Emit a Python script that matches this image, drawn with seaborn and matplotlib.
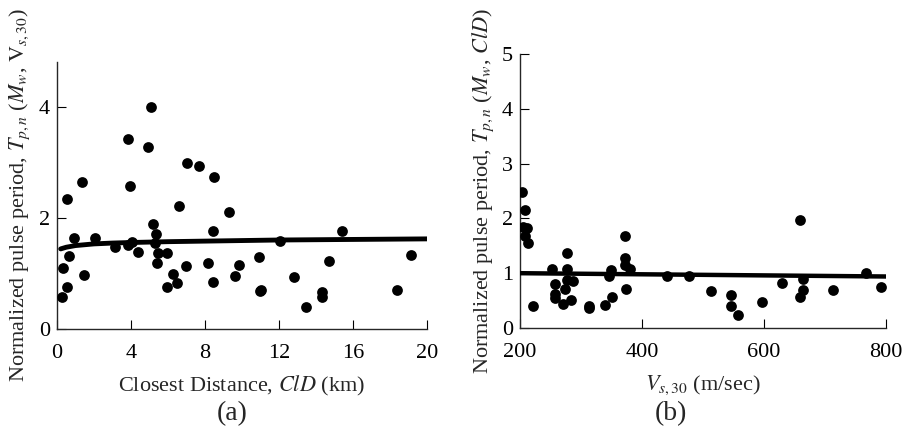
import numpy as np
import pandas as pd
import matplotlib
matplotlib.use("Agg")
import matplotlib.pyplot as plt
import seaborn as sns

# ---------------- data ----------------
# Panel (a): normalized pulse period vs closest distance
cld_km = [0.27, 0.32, 0.54, 0.65, 0.56, 0.94, 1.46, 1.33, 2.05, 3.12,
          3.86, 3.93, 3.86, 4.07, 4.38, 4.92, 5.10, 5.20, 5.35, 5.30,
          5.46, 5.42, 5.93, 5.93, 6.29, 6.49, 6.59, 6.95, 7.05, 7.66,
          8.18, 8.41, 8.45, 8.49, 9.30, 9.60, 9.82, 10.92, 10.95, 11.05,
          12.07, 12.83, 13.44, 14.34, 14.34, 14.68, 15.39, 18.38, 19.15]
tpn_a = [0.57, 1.09, 0.75, 1.32, 2.34, 1.63, 0.97, 2.65, 1.63, 1.47,
         3.42, 2.57, 1.51, 1.56, 1.39, 3.28, 3.99, 1.89, 1.70, 1.54,
         1.37, 1.18, 1.37, 0.75, 0.99, 0.82, 2.22, 1.14, 2.98, 2.93,
         1.18, 0.85, 1.77, 2.74, 2.10, 0.96, 1.15, 1.30, 0.68, 0.70,
         1.59, 0.93, 0.40, 0.66, 0.57, 1.23, 1.76, 0.70, 1.33]
fit_a_x = [0.2, 0.5, 1.0, 2.0, 3.0, 4.0, 6.0, 8.0, 10.0, 12.0, 14.0, 16.0, 18.0, 20.0]
fit_a_y = [1.44, 1.47, 1.50, 1.53, 1.545, 1.555, 1.57, 1.58, 1.59, 1.60, 1.605, 1.61, 1.615, 1.62]

# Panel (b): normalized pulse period vs Vs30
vs30 = [203.8, 208.2, 205.4, 211.0, 208.2, 213.6, 221.9,
        252.0, 276.5, 277.6, 256.8, 276.5, 287.4, 273.8, 257.4, 257.4,
        271.0, 283.6, 312.6, 312.6, 339.3, 350.3, 346.4, 349.2, 372.0,
        372.0, 372.0, 380.3, 373.8, 440.5, 477.5, 513.6, 545.4, 545.4,
        557.9, 596.7, 629.0, 659.5, 663.4, 664.4, 659.5, 712.6, 766.7, 791.8]
tpn_b = [2.49, 2.15, 1.85, 1.83, 1.68, 1.56, 0.40,
         1.07, 1.37, 1.07, 0.80, 0.88, 0.85, 0.72, 0.62, 0.54,
         0.43, 0.51, 0.40, 0.36, 0.42, 0.56, 0.95, 1.06, 1.67,
         1.27, 1.15, 1.08, 0.72, 0.94, 0.94, 0.68, 0.60, 0.41,
         0.24, 0.48, 0.82, 1.97, 0.89, 0.69, 0.56, 0.69, 1.00, 0.75]
fit_b_x = [200, 800]
fit_b_y = [1.00, 0.94]

xticks_a = [0, 4, 8, 12, 16, 20]
yticks_a = [0, 2, 4]
xticks_b = [200, 400, 600, 800]
yticks_b = [0, 1, 2, 3, 4, 5]

# ---------------- style ----------------
sns.set_style("ticks")
plt.rcParams["font.family"] = ["Liberation Serif", "DejaVu Serif"]
plt.rcParams["mathtext.fontset"] = "stix"
plt.rcParams["axes.linewidth"] = 1.0

FS = 16

fig = plt.figure(figsize=(9.05, 4.30), dpi=100)
ax1 = fig.add_axes([57/905, 1 - 329/430, 370/905, 267/430])
ax2 = fig.add_axes([520/905, 1 - 328/430, 366/905, 274/430])

df_a = pd.DataFrame({"x": cld_km, "y": tpn_a})
df_b = pd.DataFrame({"x": vs30, "y": tpn_b})
fa = pd.DataFrame({"x": fit_a_x, "y": fit_a_y})
fb = pd.DataFrame({"x": fit_b_x, "y": fit_b_y})

sns.scatterplot(data=df_a, x="x", y="y", ax=ax1, color="black", s=60,
                linewidth=0, zorder=3)
sns.lineplot(data=fa, x="x", y="y", ax=ax1, color="black", linewidth=3.5,
             zorder=4)
sns.scatterplot(data=df_b, x="x", y="y", ax=ax2, color="black", s=60,
                linewidth=0, zorder=3)
sns.lineplot(data=fb, x="x", y="y", ax=ax2, color="black", linewidth=3.2,
             zorder=4)

ax1.set_xlim(0, 20)
ax1.set_ylim(0, 4.8)
ax1.set_xticks(xticks_a)
ax1.set_yticks(yticks_a)
ax2.set_xlim(200, 800)
ax2.set_ylim(0, 5)
ax2.set_xticks(xticks_b)
ax2.set_yticks(yticks_b)

for ax in (ax1, ax2):
    for s in ("top", "right"):
        ax.spines[s].set_visible(False)
    ax.tick_params(direction="in", length=6.5, width=0.8, labelsize=FS,
                   colors="black")
    ax.tick_params(axis="x", pad=11)
    ax.tick_params(axis="y", pad=5)
    ax.set_facecolor("white")

ax1.set_xlabel("Closest Distance, $\\mathit{ClD}$ (km)", fontsize=FS, labelpad=8)
ax1.set_ylabel("Normalized pulse period, $T_{p,n}$ ($M_w$, $\\mathrm{V}_{s,30}$)",
               fontsize=FS, labelpad=5)
ax2.set_xlabel("$V_{s,30}$ (m/sec)", fontsize=FS, labelpad=8)
ax2.set_ylabel("Normalized pulse period, $T_{p,n}$ ($M_w$, $\\mathit{ClD}$)",
               fontsize=FS, labelpad=4)

fig.text(232/905, 1 - 414/430, "(a)", fontsize=20, ha="center", va="center")
fig.text(671/905, 1 - 414/430, "(b)", fontsize=20, ha="center", va="center")

fig.savefig("out.png", dpi=100, facecolor="white")
